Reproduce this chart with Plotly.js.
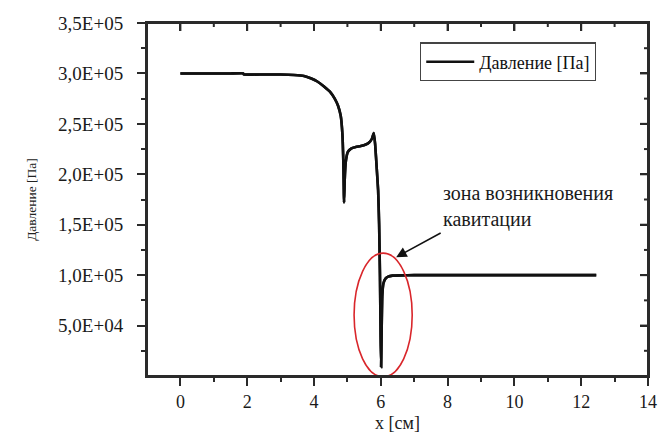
<!DOCTYPE html>
<html>
<head>
<meta charset="utf-8">
<script src="https://cdn.plot.ly/plotly-3.0.1.min.js"></script>
<style>html,body{margin:0;padding:0;background:#fff;}#chart{width:659px;height:434px;}</style>
</head>
<body>
<div id="chart"></div>
<script>
// Data
const xCm = [0, 0.5, 1.0, 1.5, 1.88, 1.9, 2.5, 3.0, 3.4, 3.7, 3.92, 4.1, 4.3, 4.5, 4.62, 4.72, 4.8, 4.85, 4.88, 4.9, 4.92, 4.95, 5.01, 5.11, 5.25, 5.4, 5.55, 5.65, 5.73, 5.79, 5.83, 5.88, 5.92, 5.95, 5.975, 5.995, 6.01, 6.025, 6.045, 6.08, 6.14, 6.22, 6.35, 6.6, 7.0, 8.0, 10.0, 12.45];
const pressure = [300000, 300000, 300000, 300000, 300000, 299000, 299000, 299000, 298500, 297500, 295000, 292000, 287000, 281000, 275000, 268000, 258000, 240000, 210000, 172000, 195000, 212000, 222000, 225500, 227000, 228000, 229500, 231500, 235000, 241000, 230000, 205000, 184000, 150000, 100000, 40000, 9000, 45000, 80000, 92000, 96500, 98500, 99500, 99800, 100000, 100000, 100000, 100000];
const yTickVals = [50000, 100000, 150000, 200000, 250000, 300000, 350000];
const yTickText = ['5,0E+04', '1,0E+05', '1,5E+05', '2,0E+05', '2,5E+05', '3,0E+05', '3,5E+05'];
const xTickVals = [0, 2, 4, 6, 8, 10, 12, 14];
const seriesName = 'Давление [Па]';
const xTitle = 'x [см]';
const yTitle = 'Давление [Па]';
const noteText = 'зона возникновения<br>кавитации';

const xRange = [-1, 14];
const yRange = [0, 350000];
const axisColor = '#2a2a2a';
const serif = "Liberation Serif, Times New Roman, DejaVu Serif, serif";

const mids = (arr) => arr.slice(1).map((v, i) => (v + arr[i]) / 2);
const xMinorVals = mids(xTickVals);
const yMinorVals = mids([yRange[0]].concat(yTickVals));

const lineStyle = {color: '#111', width: 2.6, shape: 'spline', smoothing: 0.4};
const trace = {x: xCm, y: pressure, type: 'scatter', mode: 'lines', name: seriesName, line: lineStyle};
// identical copy on the top/right frame axes (drawn exactly on top of the first)
const frameTrace = {x: xCm, y: pressure, type: 'scatter', mode: 'lines', xaxis: 'x2', yaxis: 'y2',
  name: seriesName, showlegend: false, line: lineStyle};

function axisBase() {
  return {tickcolor: axisColor, showline: true, linecolor: axisColor, linewidth: 2,
    showgrid: false, zeroline: false, tickwidth: 2, ticklen: 8};
}

// frame box and inward ticks on top/right, placed through the axis scales
const frameShapes = [
  {type: 'rect', xref: 'paper', yref: 'paper', x0: 0, x1: 1, y0: 0, y1: 1, layer: 'above',
   line: {color: axisColor, width: 2}, fillcolor: 'rgba(0,0,0,0)'}
];
function topTick(v, len) {
  return {type: 'line', xref: 'x', x0: v, x1: v, yref: 'paper', ysizemode: 'pixel', yanchor: 1, y0: 0, y1: -len,
    line: {color: axisColor, width: 2}};
}
function rightTick(v, len) {
  return {type: 'line', yref: 'y', y0: v, y1: v, xref: 'paper', xsizemode: 'pixel', xanchor: 1, x0: 0, x1: -len,
    line: {color: axisColor, width: 2}};
}
xTickVals.slice(0, -1).forEach(v => frameShapes.push(topTick(v, 8)));
xMinorVals.forEach(v => frameShapes.push(topTick(v, 4)));
yTickVals.slice(0, -1).forEach(v => frameShapes.push(rightTick(v, 8)));
yMinorVals.forEach(v => frameShapes.push(rightTick(v, 4)));

const layout = {
  width: 659, height: 434,
  margin: {l: 147, r: 11, t: 23, b: 58},
  font: {family: serif, color: '#1a1a1a', size: 18},
  showlegend: true,
  legend: {x: 0.545, y: 0.945, xanchor: 'left', yanchor: 'top', itemwidth: 48,
    bordercolor: '#444', borderwidth: 1.2, bgcolor: '#fff',
    font: {family: serif, size: 18, color: '#111'}},
  xaxis: Object.assign(axisBase(), {range: xRange, tickmode: 'array', tickvals: xTickVals, ticks: 'outside', mirror: true,
    minor: {tickmode: 'array', tickvals: xMinorVals, ticks: 'outside', ticklen: 4, tickwidth: 2, tickcolor: axisColor, showgrid: false},
    tickfont: {family: serif, size: 18, color: '#1a1a1a'},
    title: {text: xTitle, font: {family: serif, size: 18, color: '#1a1a1a'}, standoff: 6}}),
  yaxis: Object.assign(axisBase(), {range: yRange, tickmode: 'array', tickvals: yTickVals, ticktext: yTickText,
    ticks: 'outside', mirror: true, ticklabelstandoff: 10,
    minor: {tickmode: 'array', tickvals: yMinorVals, ticks: 'outside', ticklen: 4, tickwidth: 2, tickcolor: axisColor, showgrid: false},
    tickfont: {family: serif, size: 19, color: '#1a1a1a'},
    title: {text: yTitle, font: {family: serif, size: 13.5, color: '#222'}, standoff: 18}}),
  xaxis2: Object.assign(axisBase(), {overlaying: 'x', side: 'top', range: xRange, dtick: 2, tick0: 0,
    ticks: 'inside', showticklabels: false}),
  yaxis2: Object.assign(axisBase(), {overlaying: 'y', side: 'right', range: yRange, dtick: 50000, tick0: 0,
    ticks: 'inside', showticklabels: false}),
  shapes: [
    {type: 'circle', xref: 'x', yref: 'y', x0: 5.2, x1: 6.94, y0: -1000, y1: 121800,
     line: {color: '#d9262b', width: 1.6}, fillcolor: 'rgba(0,0,0,0)'}
  ].concat(frameShapes),
  annotations: [
    {xref: 'x', yref: 'y', x: 7.8, y: 194000, text: noteText, showarrow: false,
     xanchor: 'left', yanchor: 'top', align: 'left',
     font: {family: serif, size: 20, color: '#1a1a1a'}},
    {xref: 'x', yref: 'y', x: 6.46, y: 117800, text: '', showarrow: true,
     ax: 46, ay: -25, arrowhead: 2, arrowsize: 1.4, arrowwidth: 1.5, arrowcolor: '#111'}
  ]
};

Plotly.newPlot('chart', [trace, frameTrace], layout, {displayModeBar: false});
</script>
</body>
</html>
